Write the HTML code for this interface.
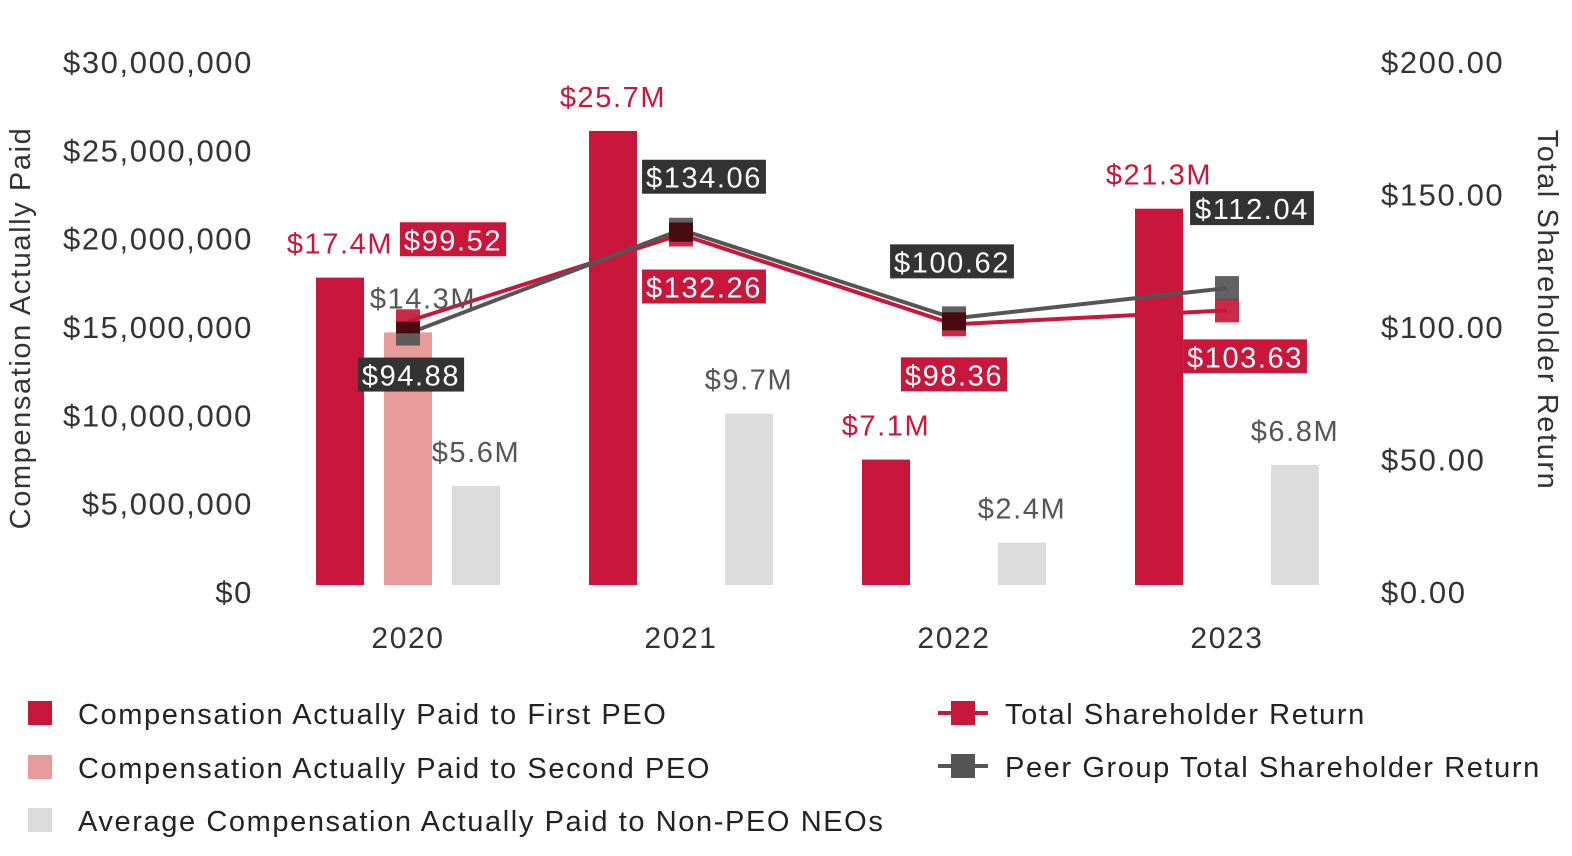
<!DOCTYPE html>
<html><head><meta charset="utf-8">
<style>
html,body{margin:0;padding:0;background:#fff;}
svg{display:block;font-family:"Liberation Sans",sans-serif;letter-spacing:1.6px;}
</style></head>
<body>
<svg id="chart" width="1572" height="856" viewBox="0 0 1572 856">
<g id="axes"></g>
<g id="bars"></g>
<g id="lines"></g>
<g id="labels"></g>
<g id="legend">
  <rect x="28" y="701" width="24" height="24" fill="#c8173a"/>
  <text x="78" y="724" font-size="29" fill="#222">Compensation Actually Paid to First PEO</text>
  <rect x="28" y="755" width="24" height="24" fill="#e99a9a"/>
  <text x="78" y="778" font-size="29" fill="#222">Compensation Actually Paid to Second PEO</text>
  <rect x="28" y="808" width="24" height="24" fill="#dcdcdc"/>
  <text x="78" y="831" font-size="29" fill="#222">Average Compensation Actually Paid to Non-PEO NEOs</text>
  <line x1="938" y1="713" x2="988" y2="713" stroke="#c8173a" stroke-width="4"/>
  <rect x="951" y="701" width="24" height="24" fill="#c8173a"/>
  <text x="1005" y="724" font-size="29" fill="#222">Total Shareholder Return</text>
  <line x1="938" y1="766" x2="988" y2="766" stroke="#555" stroke-width="4"/>
  <rect x="951" y="754" width="24" height="24" fill="#555"/>
  <text x="1005" y="777" font-size="29" fill="#222">Peer Group Total Shareholder Return</text>
</g>
<text transform="translate(30,328) rotate(-90)" text-anchor="middle" font-size="29" fill="#333">Compensation Actually Paid</text>
<text transform="translate(1538,310) rotate(90)" text-anchor="middle" font-size="29" fill="#333">Total Shareholder Return</text>
</svg>
<script>
const years = ["2020","2021","2022","2023"];
const firstPeo = [17.4, 25.7, 7.1, 21.3];
const secondPeo = [14.3, null, null, null];
const nonPeo = [5.6, 9.7, 2.4, 6.8];
const tsr = [99.52, 132.26, 98.36, 103.63];
const peerTsr = [94.88, 134.06, 100.62, 112.04];
const leftTicks = ["$0","$5,000,000","$10,000,000","$15,000,000","$20,000,000","$25,000,000","$30,000,000"];
const rightTicks = ["$0.00","$50.00","$100.00","$150.00","$200.00"];

const NS="http://www.w3.org/2000/svg";
const y0=585, yTop=55;
const yL = v => y0 - v/30*(y0-yTop);
const yR = v => y0 - v/200*(y0-yTop);
const xC = i => 408 + i*273;
function mk(parent,tag,attrs,text){const e=document.createElementNS(NS,tag);for(const k in attrs)e.setAttribute(k,attrs[k]);if(text!=null)e.textContent=text;document.getElementById(parent).appendChild(e);return e;}

leftTicks.forEach((t,i)=>{
  const e=mk("axes","text",{x:253,y:yL(i*5)+18,"text-anchor":"end","font-size":"31",fill:"#333"},t);
  
  
});
rightTicks.forEach((t,i)=>{
  const e=mk("axes","text",{x:1381,y:yR(i*50)+18,"font-size":"31",fill:"#333"},t);
  
  
});
years.forEach((t,i)=>{
  const e=mk("axes","text",{x:xC(i),y:648,"text-anchor":"middle","font-size":"30",fill:"#333"},t);
  
  
});

const series=[[firstPeo,-68,"#c8173a","#c8173a","bar-first-peo"],[secondPeo,0,"#e99a9a","#555","bar-second-peo"],[nonPeo,68,"#dcdcdc","#555","bar-non-peo"]];
series.forEach(([arr,off,col,lc,name])=>{
  arr.forEach((v,i)=>{
    if(v==null)return;
    const cx=xC(i)+off;
    const r=mk("bars","rect",{x:cx-24,y:yL(v),width:48,height:y0-yL(v),fill:col});
    
    
    const lx = (name==="bar-second-peo")? cx+15 : cx;
    const t=mk("labels","text",{x:lx,y:yL(v)-24,"text-anchor":"middle","font-size":"29",fill:lc},"$"+v+"M");
    
    
  });
});

function line(arr,col,name){
  const pts=arr.map((v,i)=>xC(i)+","+yR(v)).join(" ");
  const p=mk("lines","polyline",{points:pts,fill:"none",stroke:col,"stroke-width":"4"});
  
  
}
function markers(arr,col,name){
  arr.forEach((v,i)=>{
    const m=mk("lines","rect",{x:xC(i)-12,y:yR(v)-12,width:24,height:24,fill:col,"fill-opacity":"0.92"});
    
    
  });
}
line(tsr,"#c8173a","tsr");
line(peerTsr,"#555","peer-tsr");
markers(tsr,"#c8173a","tsr");
markers(peerTsr,"#555","peer-tsr");
tsr.forEach((v,i)=>{if(Math.abs(yR(v)-yR(peerTsr[i]))<14){const m=mk("lines","rect",{x:xC(i)-12,y:Math.max(yR(v),yR(peerTsr[i]))-12,width:24,height:24-Math.abs(yR(v)-yR(peerTsr[i])),fill:"#4a0a12"});}});

const tsrOff=[[45,-82],[23,52],[0,50],[18,46]];
const peerOff=[[3,41],[23,-53],[-2,-57],[25,-80]];
function boxes(arr,offs,col,name){
  arr.forEach((v,i)=>{
    const txt="$"+v.toFixed(2);
    const w=txt.length*17.7;
    const cx=xC(i)+offs[i][0], cy=yR(v)+offs[i][1];
    const r=mk("labels","rect",{x:cx-w/2,y:cy-17,width:w,height:34,fill:col});
    
    
    const t=mk("labels","text",{x:cx,y:cy+11,"text-anchor":"middle","font-size":"29",fill:"#fff"},txt);
    
    
  });
}
boxes(tsr,tsrOff,"#c8173a","tsr");
boxes(peerTsr,peerOff,"#333","peer-tsr");
</script>
</body></html>
